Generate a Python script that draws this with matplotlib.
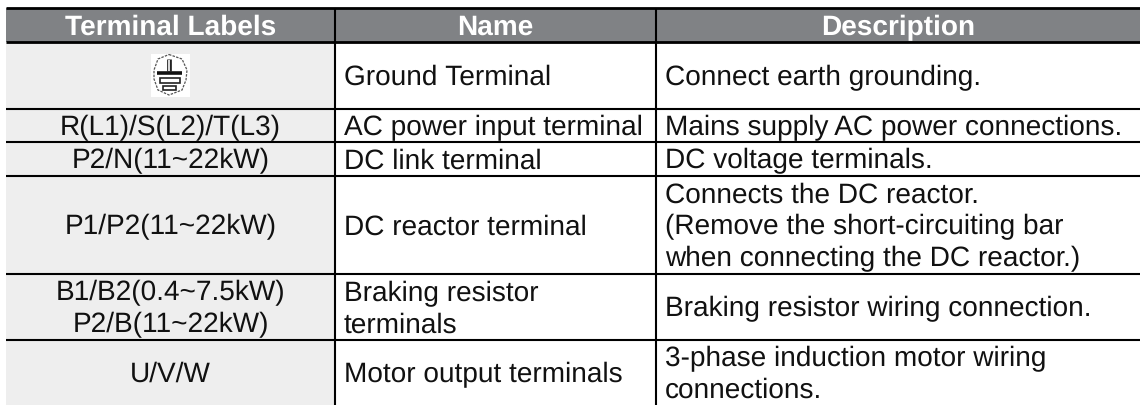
#Terminal labels table, drawn in pixel coordinates of the picture
import matplotlib
matplotlib.use("Agg")
import matplotlib.pyplot as plt
from matplotlib.patches import Rectangle, Polygon

plt.rcParams['font.family'] = ['Liberation Sans', 'DejaVu Sans']
plt.rcParams['text.hinting'] = 'no_hinting'
plt.rcParams['text.hinting_factor'] = 1

headers = ["Terminal Labels", "Name", "Description"]
labels = ["", "R(L1)/S(L2)/T(L3)", "P2/N(11~22kW)", "P1/P2(11~22kW)",
          "B1/B2(0.4~7.5kW)\nP2/B(11~22kW)", "U/V/W"]
names = ["Ground Terminal", "AC power input terminal", "DC link terminal", "DC reactor terminal",
         "Braking resistor\nterminals", "Motor output terminals"]
descriptions = ["Connect earth grounding.", "Mains supply AC power connections.",
                "DC voltage terminals.",
                "Connects the DC reactor.\n(Remove the short-circuiting bar\nwhen connecting the DC reactor.)",
                "Braking resistor wiring connection.",
                "3-phase induction motor wiring\nconnections."]

#Table layout in pixels
col_edges = [6, 335, 656, 1140]
row_edges = [7.5, 42, 109, 141.7, 175.6, 274, 339.7, 405]
header_base = [34.3, 34.3, 35.3] #the bold descender line lands a pixel high otherwise
header_color = "#808285"
cell_color = "#EEEEEE"
text_color = "#111111"
body_pt = 28.0 * 72 / 100
head_pt = 28.4 * 72 / 100
line_px = 31.7


def cell_text(x, mid, text, ha):
    #Each line is placed on its own baseline
    rows = text.split("\n")
    for k in range(len(rows)):
        y = mid + 9.7 + (k - (len(rows) - 1) / 2) * line_px
        ax.text(x, y, rows[k], color=text_color, fontsize=body_pt, ha=ha, va="baseline")


fig = plt.figure(figsize=(11.4, 4.05), dpi=100)
ax = fig.add_axes([0, 0, 1, 1])
ax.set_xlim(0, 1140)
ax.set_ylim(405, 0)
ax.axis("off")

#Backgrounds
ax.add_patch(Rectangle((col_edges[0], row_edges[0]), col_edges[-1] - col_edges[0],
                       row_edges[1] - row_edges[0], color=header_color, lw=0))
ax.add_patch(Rectangle((col_edges[0], row_edges[1]), col_edges[1] - col_edges[0],
                       row_edges[-1] - row_edges[1], color=cell_color, lw=0))

#Rules
for i in range(len(row_edges) - 1):
    ax.plot([col_edges[0], col_edges[-1]], [row_edges[i], row_edges[i]], color="black",
            lw=2.0 if i < 2 else 1.5, solid_capstyle="butt")
for x in col_edges[1:3]:
    ax.plot([x, x], [row_edges[0], row_edges[-1]], color="black", lw=1.5, solid_capstyle="butt")

#Header text
for i in range(3):
    ax.text((col_edges[i] + col_edges[i + 1]) / 2, header_base[i], headers[i], color="white",
            fontsize=head_pt, fontweight="bold", ha="center", va="baseline")

#Body text
for i in range(6):
    mid = (row_edges[i + 1] + row_edges[i + 2]) / 2
    cell_text((col_edges[0] + col_edges[1]) / 2, mid, labels[i], "center")
    cell_text(343.5, mid, names[i], "left")
    cell_text(665, mid, descriptions[i], "left")

#Ground symbol
ax.add_patch(Rectangle((151, 54), 39, 42.5, color="white", lw=0))
ax.add_patch(Polygon([(169, 54.5), (182, 59), (187, 70), (186, 80), (182, 90), (169, 95),
                      (158, 90), (154, 79), (154, 70), (158, 59)],
                     fill=False, edgecolor="#555555", lw=0.9, ls=(0, (2, 1))))
ax.plot([169, 169], [59, 71], color="#222222", lw=3.4, solid_capstyle="butt")
ax.plot([169, 169], [60, 71], color="white", lw=1.2, solid_capstyle="butt")
ax.plot([157, 182], [73, 73], color="#111111", lw=2.6, solid_capstyle="butt")
ax.add_patch(Rectangle((160, 78), 20, 5, fill=False, edgecolor="#222222", lw=1.2))
ax.add_patch(Rectangle((163, 85.5), 13, 4, fill=False, edgecolor="#222222", lw=1.2))

fig.savefig("out.png", dpi=100)
